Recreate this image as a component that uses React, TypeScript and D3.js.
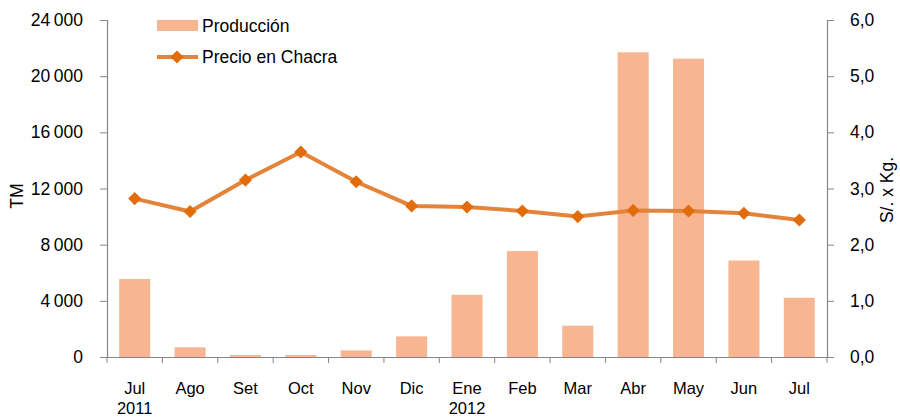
import * as d3 from "d3";
import React, { useEffect, useRef } from "react";

const months = ["Jul", "Ago", "Set", "Oct", "Nov", "Dic", "Ene", "Feb", "Mar", "Abr", "May", "Jun", "Jul"];
const years = ["2011", "", "", "", "", "", "2012", "", "", "", "", "", ""];
const produccion = [5550, 690, 140, 140, 470, 1470, 4430, 7540, 2230, 21700, 21250, 6870, 4220];
const precio = [2.82, 2.59, 3.15, 3.65, 3.12, 2.69, 2.67, 2.6, 2.5, 2.61, 2.6, 2.56, 2.44];
const leftTicks = [0, 4000, 8000, 12000, 16000, 20000, 24000];
const rightTicks = [0, 1, 2, 3, 4, 5, 6];

const App = () => {
  const ref = useRef<SVGSVGElement>(null);

  useEffect(() => {
    const svg = d3.select(ref.current);
    svg.selectAll("*").remove();

    const font = "'Liberation Sans', Arial, sans-serif";
    const fs = 17.5;
    const axisColor = "#868686";
    const barColor = "#F8B592";
    const lineColor = "#E4843A";
    const markerColor = "#E36C0A";

    const left = 107;
    const right = 827;
    const top = 20;
    const bottom = 357;

    const idx = months.map((_, i) => i);
    const x = d3.scaleBand<number>().domain(idx).range([left, right]).paddingInner(0.44).paddingOuter(0.22);
    const xBand = d3.scaleBand<number>().domain(idx).range([left, right]);
    const yL = d3.scaleLinear().domain([0, 24000]).range([bottom, top]);
    const yR = d3.scaleLinear().domain([0, 6]).range([bottom, top]);

    // bars
    svg.append("g")
      .selectAll("rect")
      .data(produccion)
      .enter()
      .append("rect")
      .attr("x", (d, i) => x(i)!)
      .attr("width", x.bandwidth())
      .attr("y", (d) => yL(d))
      .attr("height", (d) => bottom - yL(d))
      .attr("fill", barColor);

    // axes
    const fmt = (d: number) => d3.format(",")(d).replace(/,/g, "\u2009");
    const gl = svg.append("g").attr("transform", `translate(${left},0)`);
    gl.call(d3.axisLeft(yL).tickValues(leftTicks).tickSize(7).tickPadding(17).tickFormat((d) => fmt(+d)));
    const gr = svg.append("g").attr("transform", `translate(${right},0)`);
    gr.call(d3.axisRight(yR).tickValues(rightTicks).tickSize(7).tickPadding(16).tickFormat((d) => d3.format(".1f")(+d).replace(".", ",")));
    const gx = svg.append("g").attr("transform", `translate(0,${bottom})`);
    gx.call(d3.axisBottom(xBand).tickValues([]).tickSizeOuter(0));
    gx.selectAll(".xt")
      .data(d3.range(months.length + 1))
      .enter()
      .append("line")
      .attr("class", "xt")
      .attr("x1", (d) => left + d * xBand.step())
      .attr("x2", (d) => left + d * xBand.step())
      .attr("y1", 0)
      .attr("y2", 6)
      .attr("stroke", axisColor);

    [gl, gr, gx].forEach((g) => {
      g.selectAll("path").attr("stroke", axisColor).attr("stroke-width", 1.2);
      g.selectAll(".tick line").attr("stroke", axisColor);
      g.selectAll("text").attr("font-family", font).attr("font-size", fs).attr("fill", "#000");
    });

    // month labels, year on a second line
    const center = (i: number) => xBand(i)! + xBand.bandwidth() / 2;
    const xfs = 16.5;
    svg.append("g")
      .selectAll("text")
      .data(months)
      .enter()
      .append("text")
      .attr("x", (d, i) => center(i))
      .attr("y", 394)
      .attr("text-anchor", "middle")
      .attr("font-family", font)
      .attr("font-size", xfs)
      .text((d) => d);
    svg.append("g")
      .selectAll("text")
      .data(years)
      .enter()
      .append("text")
      .attr("x", (d, i) => center(i))
      .attr("y", 414)
      .attr("text-anchor", "middle")
      .attr("font-family", font)
      .attr("font-size", xfs)
      .text((d) => d);

    // line
    const line = d3.line<number>().x((d, i) => center(i)).y((d) => yR(d));
    svg.append("path")
      .datum(precio)
      .attr("d", line)
      .attr("fill", "none")
      .attr("stroke", lineColor)
      .attr("stroke-width", 4);
    const diamond = d3.symbol().type(d3.symbolDiamond2).size(110);
    svg.append("g")
      .selectAll("path")
      .data(precio)
      .enter()
      .append("path")
      .attr("d", diamond)
      .attr("transform", (d, i) => `translate(${center(i)},${yR(d)})`)
      .attr("fill", markerColor);

    // axis titles
    svg.append("text")
      .attr("transform", "translate(23,196) rotate(-90)")
      .attr("text-anchor", "middle")
      .attr("font-family", font)
      .attr("font-size", fs)
      .text("TM");
    svg.append("text")
      .attr("transform", "translate(893,190) rotate(-90)")
      .attr("text-anchor", "middle")
      .attr("font-family", font)
      .attr("font-size", fs)
      .text("S/. x Kg.");

    // legend
    const legend = svg.append("g");
    legend.append("rect").attr("x", 157).attr("y", 20).attr("width", 41).attr("height", 11).attr("fill", barColor);
    legend.append("text").attr("x", 202).attr("y", 32).attr("font-family", font).attr("font-size", fs).text("Producción");
    legend.append("line").attr("x1", 157).attr("x2", 198).attr("y1", 57).attr("y2", 57).attr("stroke", lineColor).attr("stroke-width", 4);
    legend.append("path").attr("d", diamond).attr("transform", "translate(177,57)").attr("fill", markerColor);
    legend.append("text").attr("x", 202).attr("y", 63).attr("font-family", font).attr("font-size", fs).text("Precio en Chacra");
  }, []);

  return (
    <svg ref={ref} width={900} height={419} style={{ position: "absolute", left: 0, top: 0, background: "#fff" }} />
  );
};

export default App;
